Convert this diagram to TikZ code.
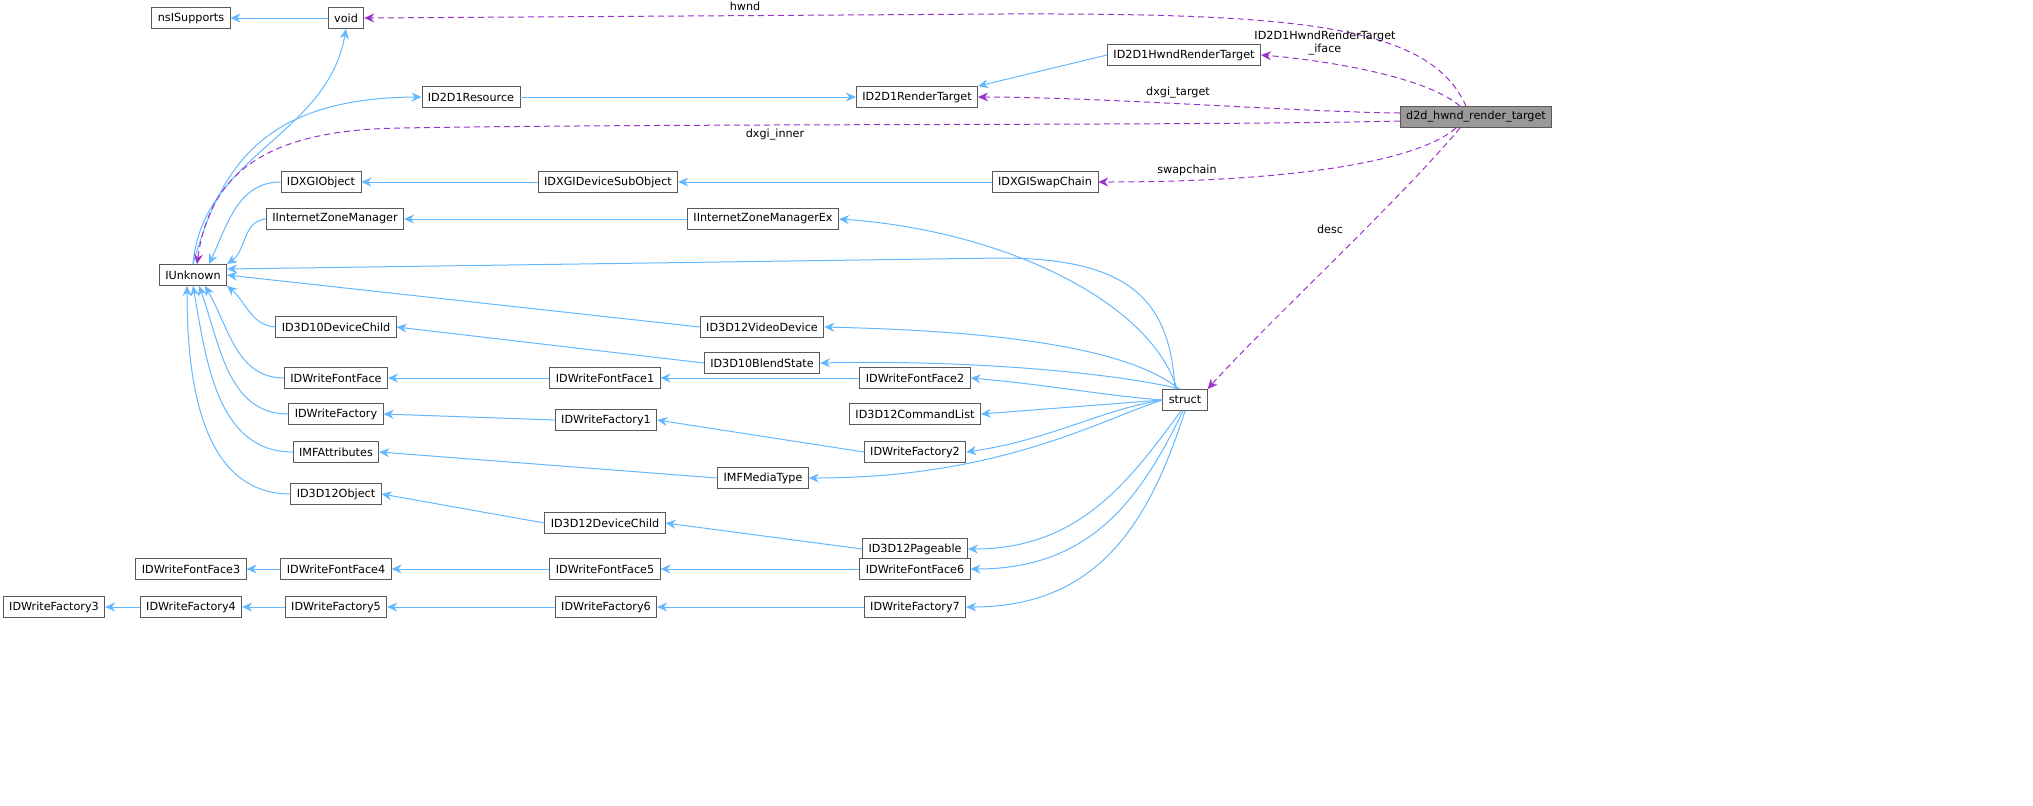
\documentclass[tikz,border=0pt]{standalone}
\usepackage{fontspec}
\setmainfont{DejaVu Sans}
\usetikzlibrary{arrows.meta}
\begin{document}
\begin{tikzpicture}[x=0.5pt,y=-0.5pt,
  n/.style={draw=black!65,fill=white,font=\fontsize{5.6pt}{6.5pt}\selectfont,inner xsep=3pt,inner ysep=0pt,minimum height=10.5pt},
  inh/.style={color={rgb,255:red,99;green,184;blue,255},line width=0.5pt,-{Stealth[length=5pt,width=4.5pt]}},
  mem/.style={draw={rgb,255:red,154;green,50;blue,205},dashed,dash pattern=on 3pt off 2pt,line width=0.5pt,-{Stealth[length=5pt,width=4.5pt]}},
  lab/.style={font=\fontsize{5.6pt}{6.5pt}\selectfont,align=center}]
\useasboundingbox (0,0) rectangle (2033,805);
\node[n] (void) at (346,18) {void};
\node[n] (nsi) at (191,18) {nsISupports};
\node[n] (hwndrt) at (1184,55) {ID2D1HwndRenderTarget};
\node[n] (res) at (471,97) {ID2D1Resource};
\node[n] (rt) at (917,97) {ID2D1RenderTarget};
\node[n,fill=black!40] (d2d) at (1476,117) {d2d\_hwnd\_render\_target};
\node[n] (dxo) at (321,182) {IDXGIObject};
\node[n] (dxs) at (608,182) {IDXGIDeviceSubObject};
\node[n] (swap) at (1045,182) {IDXGISwapChain};
\node[n] (izm) at (335,219) {IInternetZoneManager};
\node[n] (izmx) at (763,219) {IInternetZoneManagerEx};
\node[n] (iu) at (193,275) {IUnknown};
\node[n] (vd) at (762,327) {ID3D12VideoDevice};
\node[n] (dc10) at (336,327) {ID3D10DeviceChild};
\node[n] (bs) at (762,363) {ID3D10BlendState};
\node[n] (ff) at (336,378) {IDWriteFontFace};
\node[n] (ff1) at (605,378) {IDWriteFontFace1};
\node[n] (ff2) at (915,378) {IDWriteFontFace2};
\node[n] (st) at (1185,400) {struct};
\node[n] (cl) at (915,414) {ID3D12CommandList};
\node[n] (fa) at (336,414) {IDWriteFactory};
\node[n] (fa1) at (606,420) {IDWriteFactory1};
\node[n] (fa2) at (915,452) {IDWriteFactory2};
\node[n] (mfa) at (336,452) {IMFAttributes};
\node[n] (mft) at (763,478) {IMFMediaType};
\node[n] (o12) at (336,494) {ID3D12Object};
\node[n] (dc12) at (605,523) {ID3D12DeviceChild};
\node[n] (pg) at (915,549) {ID3D12Pageable};
\node[n] (ff3) at (191,569) {IDWriteFontFace3};
\node[n] (ff4) at (336,569) {IDWriteFontFace4};
\node[n] (ff5) at (605,569) {IDWriteFontFace5};
\node[n] (ff6) at (915,569) {IDWriteFontFace6};
\node[n] (fa3) at (54,607) {IDWriteFactory3};
\node[n] (fa4) at (191,607) {IDWriteFactory4};
\node[n] (fa5) at (336,607) {IDWriteFactory5};
\node[n] (fa6) at (606,607) {IDWriteFactory6};
\node[n] (fa7) at (915,607) {IDWriteFactory7};
% inheritance
\draw[inh] (void.west) -- (nsi.east);
\draw[inh] (iu.north) to[out=85,in=-100] (void.south);
\draw[inh] (iu.north) .. controls (220,170) and (260,98) .. (res.west);
\draw[inh] (res.east) -- (rt.west);
\draw[inh] (hwndrt.west) -- (rt.north east);
\draw[inh] (dxo.west) to[out=180,in=65] ([xshift=8pt]iu.north);
\draw[inh] (dxs.west) -- (dxo.east);
\draw[inh] (swap.west) -- (dxs.east);
\draw[inh] (izm.west) to[out=185,in=35] (iu.north east);
\draw[inh] (izmx.west) -- (izm.east);
\draw[inh] (vd.west) -- (iu.east);
\draw[inh] (dc10.west) to[out=175,in=-40] (iu.south east);
\draw[inh] (ff.west) to[out=180,in=-60] ([xshift=6pt]iu.south);
\draw[inh] (fa.west) to[out=180,in=-70] ([xshift=3pt]iu.south);
\draw[inh] (mfa.west) to[out=180,in=-80] ([xshift=0pt]iu.south);
\draw[inh] (o12.west) to[out=180,in=-90] ([xshift=-3pt]iu.south);
\draw[inh] (bs.west) -- (dc10.east);
\draw[inh] (ff1.west) -- (ff.east);
\draw[inh] (ff2.west) -- (ff1.east);
\draw[inh] (fa1.west) -- (fa.east);
\draw[inh] (fa2.west) -- (fa1.east);
\draw[inh] (mft.west) -- (mfa.east);
\draw[inh] (dc12.west) -- (o12.east);
\draw[inh] (pg.west) -- (dc12.east);
\draw[inh] (ff4.west) -- (ff3.east);
\draw[inh] (ff5.west) -- (ff4.east);
\draw[inh] (ff6.west) -- (ff5.east);
\draw[inh] (fa4.west) -- (fa3.east);
\draw[inh] (fa5.west) -- (fa4.east);
\draw[inh] (fa6.west) -- (fa5.east);
\draw[inh] (fa7.west) -- (fa6.east);
% struct to parents
\draw[inh] ([xshift=-5pt]st.north) .. controls (1170,300) and (1130,258) .. (1000,258) -- ([yshift=3pt]iu.east);
\draw[inh] ([xshift=-4pt]st.north) .. controls (1150,300) and (1000,230) .. (izmx.east);
\draw[inh] ([xshift=-3pt]st.north) .. controls (1120,340) and (950,330) .. (vd.east);
\draw[inh] ([xshift=-2pt]st.north) .. controls (1100,370) and (950,360) .. (bs.east);
\draw[inh] (st.west) .. controls (1100,395) and (1050,385) .. (ff2.east);
\draw[inh] (st.west) -- (cl.east);
\draw[inh] (st.west) .. controls (1100,410) and (1050,440) .. (fa2.east);
\draw[inh] (st.west) .. controls (1100,420) and (1000,478) .. (mft.east);
\draw[inh] ([xshift=-2pt]st.south) .. controls (1130,480) and (1080,549) .. (pg.east);
\draw[inh] ([xshift=-1pt]st.south) .. controls (1140,500) and (1090,569) .. (ff6.east);
\draw[inh] (st.south) .. controls (1150,520) and (1100,607) .. (fa7.east);
% members
\draw[mem] ([xshift=-5pt]d2d.north) .. controls (1430,25) and (1300,13) .. (1000,14) -- (void.east);
\node[lab] at (745,6) {hwnd};
\draw[mem] ([xshift=-8pt]d2d.north) .. controls (1420,72) and (1300,58) .. (hwndrt.east);
\node[lab] at (1325,43) {ID2D1HwndRenderTarget\\\_iface};
\draw[mem] ([yshift=2pt]d2d.west) .. controls (1300,112) and (1100,97) .. (rt.east);
\node[lab] at (1178,93) {dxgi\_target};
\draw[mem] ([yshift=-2pt]d2d.west) .. controls (1200,126) and (700,123) .. (400,128) .. controls (270,130) and (210,170) .. ([xshift=2pt]iu.north);
\node[lab] at (775,135) {dxgi\_inner};
\draw[mem] ([xshift=-10pt]d2d.south) .. controls (1420,160) and (1300,182) .. (swap.east);
\node[lab] at (1187,170) {swapchain};
\draw[mem] ([xshift=-8pt]d2d.south) .. controls (1400,200) and (1260,330) .. (st.north east);
\node[lab] at (1330,229) {desc};
\end{tikzpicture}
\end{document}
